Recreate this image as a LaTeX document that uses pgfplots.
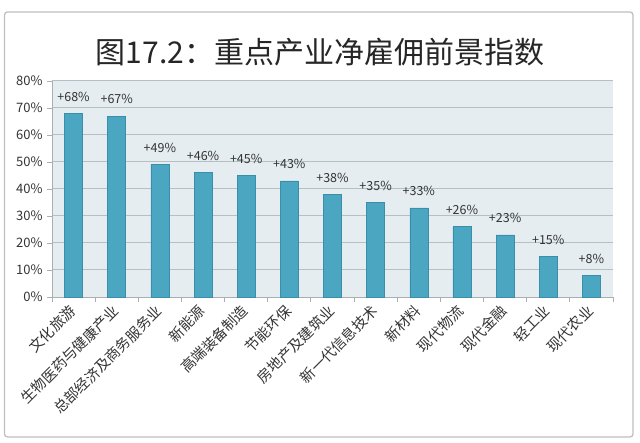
\documentclass[border=0pt]{standalone}
\usepackage{fontspec}
\setmainfont{Noto Sans CJK SC}
\usepackage{pgfplots}
\pgfplotsset{compat=1.18}
\definecolor{barfill}{HTML}{4BA6C2}
\definecolor{baredge}{HTML}{3A8EAA}
\definecolor{bgplot}{HTML}{E5EDF1}
\definecolor{gridc}{HTML}{B5C0C5}
\definecolor{axisc}{HTML}{A8B0B4}
\definecolor{txt}{HTML}{333333}
\begin{document}
\begin{tikzpicture}
\path[use as bounding box] (0,0) rectangle (640bp,443bp);
\draw[rounded corners=3bp, color=black!25, line width=1.3bp] (4.5bp,6bp) rectangle (633bp,431bp);
\node[font=\fontsize{30bp}{33bp}\selectfont, text=black!85] at (320bp,391bp) {图17.2：重点产业净雇佣前景指数};
\begin{axis}[
  at={(52bp,146bp)}, anchor=south west,
  scale only axis, width=561bp, height=216bp,
  ybar, bar width=18bp,
  xmin=-0.5, xmax=12.5, ymin=0, ymax=80,
  axis x line*=bottom, axis y line*=left,
  axis line style={color=axisc, line width=0.9bp},
  axis background/.style={fill=bgplot},
  ytick={0,10,...,80},
  yticklabel={\pgfmathprintnumber{\tick}\%},
  /pgf/number format/assume math mode=true,
  yticklabel style={font=\fontsize{13bp}{14bp}\selectfont, text=txt, xshift=-1bp},
  ymajorgrids, grid style={color=gridc, line width=1bp},
  xtick={0,...,12},
  xticklabels={文化旅游,生物医药与健康产业,总部经济及商务服务业,新能源,高端装备制造,节能环保,房地产及建筑业,新一代信息技术,新材料,现代物流,现代金融,轻工业,现代农业},
  xticklabel style={rotate=45, anchor=north east, font=\fontsize{14.5bp}{15bp}\selectfont, text=txt, xshift=-4bp, yshift=4bp, inner sep=1bp},
  major x tick style={draw=none},
  minor xtick={-0.5,0.5,...,12.5},
  minor x tick style={color=axisc, line width=0.9bp},
  minor tick length=5bp,
  major tick length=5bp,
  tick align=outside,
  ytick style={color=axisc, line width=0.9bp},
  nodes near coords={+\pgfmathprintnumber{\pgfplotspointmeta}\%},
  nodes near coords style={font=\fontsize{12.5bp}{13bp}\selectfont, text=txt, yshift=8.5bp},
  clip=false,
]
\addplot[fill=barfill, draw=baredge, line width=0.6bp] coordinates {
(0,68) (1,67) (2,49) (3,46) (4,45) (5,43) (6,38) (7,35) (8,33) (9,26) (10,23) (11,15) (12,8)};
\end{axis}
\end{tikzpicture}
\end{document}
